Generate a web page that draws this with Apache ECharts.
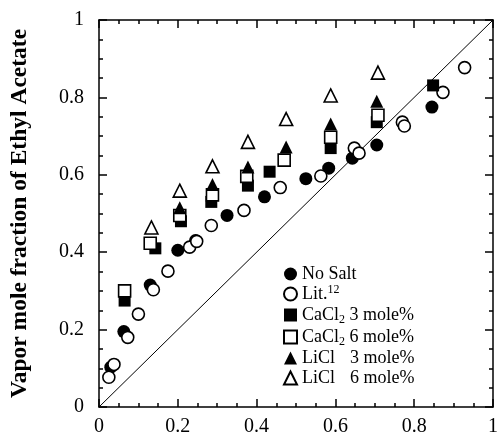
<!DOCTYPE html>
<html>
<head>
<meta charset="utf-8">
<script src="https://cdn.jsdelivr.net/npm/echarts@6/dist/echarts.min.js"></script>
<style>
  html, body { margin: 0; padding: 0; background: #fff; }
  #main { width: 501px; height: 437px; }
</style>
</head>
<body>
<div id="main"></div>
<script>
// data: [liquid x, vapor y]
var noSalt = [[0.03, 0.103], [0.063, 0.195], [0.13, 0.315], [0.2, 0.405], [0.245, 0.43], [0.325, 0.495],
  [0.42, 0.543], [0.525, 0.59], [0.583, 0.617], [0.643, 0.643], [0.705, 0.677], [0.845, 0.775]];
var lit12 = [[0.025, 0.077], [0.038, 0.11], [0.073, 0.18], [0.1, 0.24], [0.138, 0.303], [0.175, 0.351],
  [0.23, 0.413], [0.248, 0.428], [0.285, 0.469], [0.368, 0.508], [0.46, 0.567], [0.563, 0.597],
  [0.648, 0.669], [0.66, 0.656], [0.77, 0.736], [0.775, 0.726], [0.873, 0.813], [0.928, 0.877]];
var cacl3 = [[0.065, 0.275], [0.143, 0.41], [0.208, 0.48], [0.285, 0.53], [0.378, 0.572], [0.433, 0.608],
  [0.588, 0.669], [0.705, 0.736], [0.848, 0.831]];
var cacl6 = [[0.065, 0.3], [0.13, 0.423], [0.205, 0.495], [0.288, 0.548], [0.375, 0.596], [0.47, 0.638],
  [0.588, 0.697], [0.708, 0.754]];
var licl3 = [[0.205, 0.515], [0.288, 0.575], [0.378, 0.62], [0.475, 0.672], [0.588, 0.731], [0.705, 0.79]];
var licl6 = [[0.133, 0.464], [0.205, 0.559], [0.288, 0.622], [0.378, 0.685], [0.475, 0.744], [0.588, 0.805],
  [0.708, 0.864]];
var diagonal = [[0, 0], [1, 1]];

var names = ['No Salt', 'Lit.12', 'CaCl2 3 mole%', 'CaCl2 6 mole%', 'LiCl 3 mole%', 'LiCl 6 mole%'];
var legendText = {
  'No Salt': '{t|No Salt}',
  'Lit.12': '{t|Lit.}{sup|12}',
  'CaCl2 3 mole%': '{t|CaCl}{sub|2}{t| 3 mole%}',
  'CaCl2 6 mole%': '{t|CaCl}{sub|2}{t| 6 mole%}',
  'LiCl 3 mole%': '{n|LiCl}{t|3 mole%}',
  'LiCl 6 mole%': '{n|LiCl}{t|6 mole%}'
};

var font = 'Liberation Serif';
var chart = echarts.init(document.getElementById('main'), null, { renderer: 'canvas' });

function pts(name, data, symbol, filled, size) {
  return {
    name: name,
    type: 'scatter',
    data: data,
    symbol: symbol,
    symbolSize: size,
    z: 3,
    itemStyle: {
      color: filled ? '#000' : '#fff',
      borderColor: '#000',
      borderWidth: filled ? 0 : 1.6,
      opacity: 1
    }
  };
}

// axis pieces shared by the four sides
function axisBase(show) {
  return {
    type: 'value',
    min: 0,
    max: 1,
    interval: 0.2,
    axisLine: { show: true, onZero: false, lineStyle: { color: '#000', width: 1.5 } },
    axisTick: { show: true, inside: true, length: 8, lineStyle: { color: '#000', width: 1.5 } },
    minorTick: { show: true, splitNumber: 4, length: 4, lineStyle: { color: '#000', width: 1.5 } },
    splitLine: { show: false },
    axisLabel: {
      show: show,
      color: '#000',
      fontFamily: font,
      fontSize: 20
    }
  };
}

var xBottom = axisBase(true);
xBottom.position = 'bottom';
xBottom.axisLabel.margin = 10;
var xTop = axisBase(false);
xTop.position = 'top';
var yLeft = axisBase(true);
yLeft.position = 'left';
yLeft.axisLabel.margin = 15;
yLeft.name = 'Vapor mole fraction of Ethyl Acetate';
yLeft.nameLocation = 'middle';
yLeft.nameGap = 67;
yLeft.nameTextStyle = { color: '#000', fontFamily: font, fontSize: 23.5, fontWeight: 'bold' };
var yRight = axisBase(false);
yRight.position = 'right';

var richBase = { fontFamily: font, fontSize: 18, color: '#000', lineHeight: 20, verticalAlign: 'middle' };
var option = {
  animation: false,
  backgroundColor: '#fff',
  grid: { left: 98, right: 3, top: 20, bottom: 27 },
  xAxis: [xBottom, xTop],
  yAxis: [yLeft, yRight],
  legend: {
    data: names,
    orient: 'vertical',
    left: 278,
    top: 259,
    itemWidth: 13,
    itemHeight: 13,
    itemGap: 0,
    textStyle: {
      color: '#000',
      fontFamily: font,
      fontSize: 18,
      lineHeight: 20,
      rich: {
        t: richBase,
        n: Object.assign({}, richBase, { width: 48 }),
        sub: { fontFamily: font, fontSize: 12, color: '#000', lineHeight: 22, verticalAlign: 'bottom' },
        sup: { fontFamily: font, fontSize: 12, color: '#000', lineHeight: 20, verticalAlign: 'top' }
      }
    },
    formatter: function (name) { return legendText[name]; }
  },
  series: [
    {
      name: 'diag',
      type: 'line',
      data: diagonal,
      showSymbol: false,
      symbol: 'none',
      silent: true,
      z: 1,
      lineStyle: { color: '#000', width: 1 }
    },
    pts('No Salt', noSalt, 'circle', true, 13),
    pts('Lit.12', lit12, 'circle', false, 12),
    pts('CaCl2 3 mole%', cacl3, 'rect', true, 12),
    pts('CaCl2 6 mole%', cacl6, 'rect', false, 12),
    pts('LiCl 3 mole%', licl3, 'triangle', true, 13),
    pts('LiCl 6 mole%', licl6, 'triangle', false, 13)
  ]
};
chart.setOption(option);
</script>
</body>
</html>
